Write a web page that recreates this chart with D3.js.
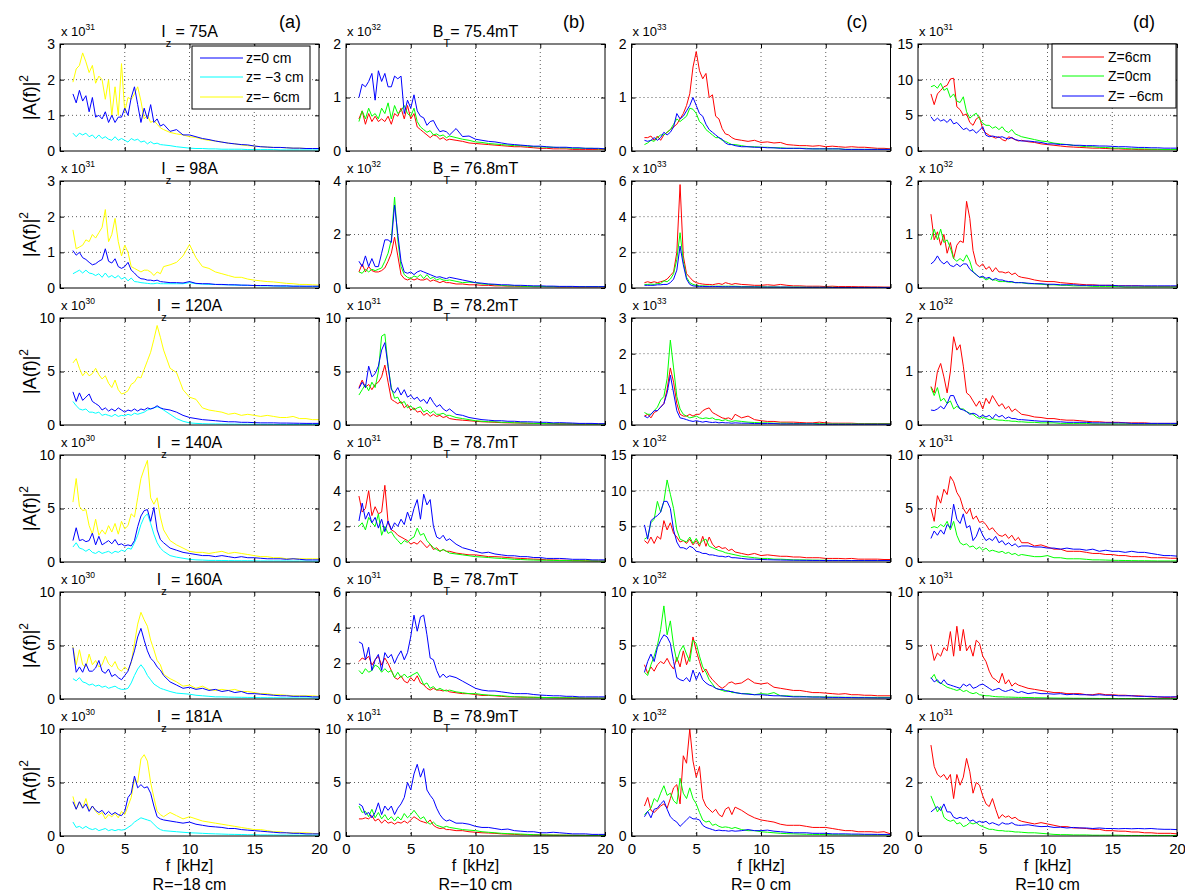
<!DOCTYPE html>
<html><head><meta charset="utf-8">
<script src="https://cdn.jsdelivr.net/npm/d3@7"></script>
<style>
body{margin:0;background:#fff}
text{font-family:"Liberation Sans",Arial,Helvetica,sans-serif;fill:#000}
</style>
</head><body>
<svg id="chart" width="1185" height="895"></svg>
<script>
// frequency axis (kHz)
const freq = [1,1.25,1.5,1.75,2,2.25,2.5,2.75,3,3.25,3.5,3.75,4,4.25,4.5,4.75,5,5.25,5.5,5.75,6,6.25,6.5,6.75,7,7.25,7.5,7.75,8,
  8.5,9,9.5,10,10.5,11,11.5,12,12.5,13,13.5,14,14.5,15,15.5,16,16.5,17,17.5,18,18.5,19,19.5,20];

// ---- column (a): R = -18 cm ; z = 0 (blue), -3 (cyan), -6 (yellow)
const a1_blue = [1.6,1.35,1.7,1.4,1.55,1.1,1.5,0.95,1.0,0.9,1.1,0.8,1.0,0.8,0.95,0.95,1.2,1.0,1.5,1.8,1.3,0.8,1.2,0.9,1.3,0.8,0.9,0.7,0.75,
  0.55,0.6,0.45,0.45,0.4,0.35,0.32,0.28,0.25,0.22,0.2,0.18,0.17,0.14,0.12,0.11,0.1,0.1,0.09,0.08,0.08,0.07,0.07,0.07];
const a1_cyan = [0.5,0.4,0.5,0.45,0.5,0.4,0.45,0.35,0.45,0.35,0.4,0.33,0.3,0.4,0.3,0.35,0.3,0.25,0.35,0.3,0.33,0.25,0.28,0.2,0.26,0.2,0.22,0.18,0.17,
  0.15,0.12,0.1,0.08,0.07,0.07,0.06,0.06,0.05,0.05,0.05,0.05,0.04,0.04,0.04,0.04,0.04,0.03,0.03,0.03,0.03,0.03,0.03,0.03];
const a1_yellow = [1.93,2.3,2.4,2.75,2.5,2.2,2.4,1.9,2.1,2.0,1.45,2.0,1.0,1.8,1.0,2.45,1.1,1.5,1.45,1.6,1.8,1.4,0.9,1.0,0.8,0.85,0.75,0.65,0.6,
  0.52,0.48,0.45,0.4,0.38,0.33,0.3,0.28,0.25,0.22,0.2,0.17,0.15,0.14,0.12,0.11,0.1,0.1,0.09,0.08,0.08,0.07,0.07,0.07];

const a2_blue = [1.05,0.92,1.0,0.85,0.8,0.72,0.65,0.68,0.75,0.8,1.1,0.75,0.7,0.82,0.6,0.55,0.6,0.72,0.5,0.42,0.32,0.26,0.25,0.22,0.22,0.2,0.22,0.18,0.17,
  0.15,0.15,0.14,0.18,0.13,0.12,0.12,0.1,0.1,0.09,0.09,0.08,0.08,0.07,0.07,0.07,0.06,0.06,0.06,0.05,0.05,0.05,0.05,0.05];
const a2_cyan = [0.4,0.45,0.5,0.42,0.5,0.42,0.4,0.35,0.4,0.3,0.42,0.3,0.35,0.28,0.35,0.25,0.3,0.2,0.28,0.18,0.17,0.15,0.14,0.13,0.12,0.12,0.14,0.12,0.12,
  0.12,0.12,0.12,0.15,0.12,0.11,0.1,0.1,0.09,0.09,0.08,0.08,0.07,0.07,0.06,0.06,0.06,0.05,0.05,0.05,0.05,0.04,0.04,0.04];
const a2_yellow = [1.63,1.1,1.15,1.2,1.35,1.3,1.5,1.4,1.55,1.7,2.2,1.3,1.5,1.95,1.3,0.9,1.2,1.0,0.6,0.55,0.5,0.45,0.5,0.5,0.45,0.35,0.45,0.4,0.6,
  0.65,0.72,0.9,1.22,0.85,0.6,0.55,0.45,0.4,0.35,0.3,0.3,0.25,0.22,0.2,0.18,0.17,0.15,0.13,0.12,0.1,0.1,0.09,0.08];

const a3_blue = [3.1,2.2,3.0,2.3,2.6,2.9,2.2,2.0,1.8,1.4,1.6,1.3,1.5,1.3,1.6,1.4,1.2,1.4,1.3,1.5,1.3,1.5,1.4,1.6,1.5,1.6,1.8,1.6,1.5,
  1.4,1.2,0.9,0.7,0.6,0.5,0.45,0.4,0.35,0.3,0.3,0.25,0.25,0.22,0.2,0.2,0.2,0.18,0.18,0.17,0.16,0.15,0.15,0.15];
const a3_cyan = [2.2,1.8,1.5,1.4,1.5,1.2,1.2,1.1,1.2,0.9,1.0,0.9,0.8,1.0,0.8,0.9,0.85,1.0,0.9,1.1,1.0,1.1,1.2,1.4,1.5,1.6,1.7,1.6,1.4,
  1.0,0.6,0.35,0.2,0.15,0.12,0.1,0.1,0.09,0.08,0.08,0.07,0.07,0.06,0.06,0.06,0.05,0.05,0.05,0.05,0.05,0.05,0.05,0.05];
const a3_yellow = [5.8,6.2,5.3,4.6,5.0,4.6,4.8,5.3,4.7,4.3,4.6,3.9,3.5,4.2,3.3,2.9,3.0,3.2,3.8,4.0,4.5,4.4,5.2,6.0,6.8,8.0,9.3,8.2,7.0,
  5.3,4.9,3.3,2.6,2.4,1.6,1.4,1.3,1.2,1.0,1.1,0.9,1.0,0.9,0.8,0.9,0.8,0.7,0.7,0.8,0.6,0.6,0.5,0.5];

const a4_blue = [2.0,3.2,2.0,2.1,1.9,2.0,2.7,1.6,2.4,1.6,1.8,2.0,1.7,2.1,1.6,1.7,1.5,1.6,1.5,2.0,3.3,4.3,4.8,4.9,3.8,5.1,3.0,2.1,1.8,
  1.3,1.1,0.9,0.8,0.7,0.6,0.6,0.5,0.6,0.5,0.4,0.5,0.4,0.4,0.35,0.3,0.3,0.3,0.25,0.3,0.25,0.2,0.2,0.2];
const a4_cyan = [1.4,1.8,1.3,1.2,1.0,1.2,0.9,0.8,1.0,0.8,0.9,1.0,0.8,1.0,0.9,1.1,1.0,1.3,1.2,1.8,2.5,3.5,4.2,4.5,3.6,2.6,1.8,1.3,1.0,
  0.6,0.45,0.35,0.25,0.2,0.18,0.15,0.15,0.14,0.13,0.12,0.12,0.12,0.11,0.1,0.1,0.1,0.1,0.1,0.09,0.09,0.09,0.08,0.08];
const a4_yellow = [5.6,7.8,5.2,4.8,4.9,3.4,2.6,4.0,2.5,3.0,2.6,3.4,2.8,3.6,2.6,3.8,3.1,3.4,4.5,4.2,6.0,7.8,8.7,9.5,6.0,5.4,6.0,4.2,3.0,
  2.0,1.6,1.3,1.0,0.9,0.9,0.8,0.9,1.0,0.8,0.9,0.8,0.7,0.6,0.5,0.5,0.4,0.4,0.3,0.3,0.3,0.3,0.3,0.3];

const a5_blue = [4.8,2.5,3.0,2.5,3.3,2.6,2.6,2.9,3.6,2.6,2.4,2.8,2.1,2.3,2.0,1.8,2.2,2.6,3.5,4.5,5.8,6.6,5.5,4.5,3.8,3.5,3.0,2.7,2.2,
  1.6,1.3,1.0,1.1,0.9,1.0,0.8,0.9,0.7,0.8,0.6,0.7,0.5,0.5,0.45,0.4,0.35,0.3,0.3,0.25,0.25,0.25,0.2,0.2];
const a5_cyan = [1.9,1.7,2.0,1.6,1.5,1.3,1.4,1.2,1.3,1.1,1.2,1.0,1.1,1.2,1.0,0.9,0.9,1.0,1.5,2.2,2.8,3.2,2.8,2.2,1.8,1.4,1.2,1.0,0.9,
  0.7,0.55,0.5,0.45,0.35,0.3,0.25,0.2,0.2,0.18,0.17,0.16,0.15,0.14,0.13,0.12,0.12,0.11,0.1,0.1,0.1,0.1,0.1,0.1];
const a5_yellow = [4.9,3.2,4.6,3.2,3.0,4.2,3.2,3.6,3.0,3.2,4.0,3.3,3.0,3.5,2.8,2.6,3.0,2.7,3.4,5.2,7.0,8.1,7.4,6.8,5.5,4.6,3.6,3.2,2.3,
  1.9,1.6,1.2,1.3,1.0,1.2,0.9,0.8,0.9,0.8,0.9,0.7,0.7,0.6,0.5,0.5,0.4,0.4,0.35,0.3,0.3,0.3,0.3,0.25];

const a6_blue = [3.2,2.5,3.2,2.6,3.0,2.3,2.8,2.4,2.2,2.4,2.0,2.3,2.0,2.2,2.0,1.9,2.3,3.6,4.0,5.6,4.5,4.8,4.5,4.6,4.0,2.8,1.8,1.6,1.5,
  1.4,1.3,1.2,1.3,1.1,1.0,0.9,0.85,0.8,0.7,0.7,0.6,0.55,0.5,0.45,0.4,0.35,0.3,0.3,0.25,0.25,0.2,0.2,0.2];
const a6_cyan = [1.3,0.8,0.9,0.7,0.9,0.7,0.6,0.7,0.5,0.6,0.7,0.5,0.6,0.5,0.6,0.55,0.6,0.8,1.0,1.3,1.5,1.7,1.6,1.5,1.4,1.1,0.8,0.6,0.5,
  0.45,0.4,0.35,0.3,0.28,0.25,0.22,0.2,0.18,0.16,0.15,0.14,0.12,0.12,0.1,0.1,0.1,0.09,0.09,0.08,0.08,0.08,0.08,0.08];
const a6_yellow = [3.7,2.5,3.2,2.6,3.5,2.4,2.8,2.3,2.0,2.2,1.6,2.0,1.8,2.1,1.7,2.3,2.0,2.8,3.6,5.3,5.0,7.2,7.6,7.0,5.0,3.6,2.3,2.0,1.8,
  2.2,1.9,1.6,1.8,1.6,1.4,1.3,1.2,1.1,1.0,0.9,0.8,0.7,0.6,0.6,0.5,0.4,0.4,0.3,0.3,0.3,0.3,0.25,0.2];

// ---- column (b): R = -10 cm ; Z = 6 (red), 0 (green), -6 (blue)
const b1_red = [0.6,0.75,0.5,0.7,0.55,0.65,0.55,0.6,0.55,0.65,0.5,0.7,0.65,0.8,0.6,0.85,0.6,0.7,0.45,0.4,0.35,0.3,0.25,0.3,0.28,0.22,0.25,0.2,0.22,
  0.2,0.18,0.15,0.14,0.13,0.12,0.11,0.1,0.09,0.08,0.08,0.07,0.06,0.05,0.05,0.04,0.04,0.04,0.03,0.03,0.03,0.03,0.03,0.03];
const b1_green = [0.55,0.75,0.6,0.8,0.65,0.7,0.6,0.8,0.7,0.9,0.6,0.85,0.7,0.75,0.85,0.7,0.65,0.8,0.55,0.45,0.4,0.35,0.38,0.3,0.32,0.28,0.3,0.25,0.28,
  0.25,0.22,0.2,0.17,0.16,0.14,0.13,0.12,0.11,0.1,0.1,0.09,0.08,0.08,0.07,0.07,0.06,0.06,0.05,0.05,0.05,0.05,0.04,0.04];
const b1_blue = [1.0,1.25,1.2,1.3,1.45,0.95,1.5,1.3,1.45,1.2,1.2,1.4,1.35,1.4,0.7,0.95,0.8,1.05,0.75,0.65,0.62,0.48,0.55,0.57,0.45,0.36,0.38,0.36,0.3,
  0.42,0.27,0.28,0.22,0.2,0.18,0.17,0.15,0.13,0.12,0.11,0.1,0.09,0.09,0.08,0.07,0.07,0.07,0.06,0.06,0.05,0.05,0.05,0.04];

const b2_red = [0.6,0.9,0.6,0.8,0.65,0.6,0.6,0.65,0.75,1.0,1.3,1.9,1.2,0.5,0.35,0.3,0.35,0.3,0.35,0.3,0.3,0.35,0.25,0.3,0.25,0.2,0.25,0.2,0.2,
  0.15,0.15,0.12,0.12,0.1,0.1,0.08,0.08,0.07,0.07,0.06,0.06,0.05,0.05,0.05,0.05,0.04,0.04,0.04,0.04,0.04,0.04,0.04,0.04];
const b2_green = [0.6,0.55,0.7,0.6,0.7,0.65,0.7,0.75,1.0,1.3,1.8,3.4,1.8,0.8,0.5,0.4,0.35,0.45,0.4,0.5,0.35,0.5,0.35,0.4,0.3,0.35,0.3,0.28,0.3,
  0.25,0.2,0.22,0.2,0.15,0.14,0.12,0.1,0.08,0.08,0.07,0.06,0.06,0.06,0.05,0.05,0.05,0.05,0.05,0.05,0.05,0.05,0.05,0.05];
const b2_blue = [1.0,0.8,1.2,0.8,1.1,0.8,0.8,1.3,1.8,1.8,1.7,3.1,2.0,1.0,0.6,0.55,0.6,0.5,0.6,0.65,0.6,0.55,0.5,0.45,0.4,0.42,0.38,0.35,0.4,
  0.35,0.3,0.25,0.2,0.18,0.15,0.14,0.12,0.12,0.1,0.1,0.09,0.08,0.08,0.07,0.07,0.06,0.06,0.06,0.05,0.05,0.05,0.05,0.05];

const b3_red = [3.5,4.2,3.5,3.8,3.3,3.8,4.0,4.5,5.6,4.0,2.4,2.2,2.0,2.2,1.6,1.9,1.4,1.6,1.2,1.3,0.9,1.1,0.8,1.0,0.8,0.9,0.7,0.8,0.6,
  0.5,0.45,0.4,0.35,0.3,0.28,0.25,0.22,0.2,0.2,0.18,0.16,0.15,0.15,0.14,0.13,0.12,0.12,0.11,0.1,0.1,0.1,0.1,0.1];
const b3_green = [2.8,3.3,3.8,3.2,4.0,3.5,5.0,8.3,8.5,5.5,3.5,2.5,2.6,2.0,2.2,1.6,1.8,1.4,1.6,1.7,1.2,1.4,1.1,1.3,1.0,1.0,1.1,0.9,0.9,
  0.7,0.6,0.5,0.4,0.35,0.3,0.3,0.25,0.25,0.2,0.2,0.18,0.15,0.15,0.12,0.12,0.1,0.1,0.1,0.09,0.09,0.08,0.08,0.08];
const b3_blue = [3.4,4.0,3.5,5.5,4.5,4.8,5.5,7.0,7.7,5.5,3.3,3.0,3.5,2.8,3.3,2.6,2.8,2.4,2.6,2.2,2.4,2.0,2.6,2.1,1.7,1.9,1.5,1.3,1.5,
  1.0,0.9,0.7,0.6,0.5,0.45,0.4,0.4,0.35,0.35,0.3,0.3,0.28,0.25,0.25,0.2,0.22,0.2,0.18,0.15,0.15,0.15,0.12,0.12];

const b4_red = [3.7,2.8,3.0,4.0,2.6,3.1,2.7,2.8,4.3,2.2,1.8,1.7,1.5,1.4,1.3,1.2,1.0,1.1,1.0,1.2,1.0,0.8,1.0,0.7,0.8,0.6,0.7,0.6,0.6,
  0.5,0.45,0.4,0.4,0.35,0.3,0.3,0.28,0.25,0.22,0.2,0.18,0.16,0.15,0.12,0.12,0.1,0.1,0.08,0.08,0.07,0.06,0.06,0.05];
const b4_green = [2.0,2.2,1.8,2.5,2.2,2.0,2.7,1.5,2.0,1.6,1.7,1.4,1.2,1.0,1.2,1.1,1.3,1.4,1.9,1.5,1.6,1.2,1.0,0.8,0.7,0.6,0.7,0.6,0.5,
  0.45,0.4,0.35,0.3,0.28,0.25,0.22,0.2,0.18,0.15,0.14,0.12,0.11,0.1,0.1,0.09,0.08,0.08,0.07,0.07,0.06,0.06,0.05,0.05];
const b4_blue = [2.3,3.3,2.4,2.8,2.2,2.5,1.9,2.4,1.7,2.3,1.8,2.2,2.0,2.4,2.1,2.8,2.3,3.0,3.5,2.4,3.8,3.2,3.5,2.0,1.4,1.3,1.5,1.2,1.3,
  1.0,0.8,0.7,0.6,0.5,0.55,0.45,0.4,0.35,0.35,0.3,0.3,0.25,0.25,0.2,0.2,0.2,0.18,0.15,0.15,0.15,0.12,0.12,0.12];

const b5_red = [2.1,2.3,2.2,2.4,1.9,2.2,2.4,1.9,2.3,2.0,1.6,1.2,1.1,1.3,1.0,0.9,1.2,1.0,1.3,0.9,0.8,0.6,0.5,0.6,0.5,0.5,0.45,0.5,0.4,
  0.35,0.3,0.3,0.25,0.2,0.2,0.18,0.15,0.12,0.12,0.1,0.1,0.09,0.08,0.08,0.07,0.07,0.06,0.06,0.06,0.05,0.05,0.05,0.05];
const b5_green = [1.6,1.4,1.7,1.5,1.6,1.9,1.8,1.5,1.7,1.5,1.6,1.2,1.5,1.2,1.4,1.2,1.3,1.4,1.5,1.2,0.8,0.9,0.6,0.7,0.5,0.6,0.5,0.45,0.5,
  0.4,0.35,0.3,0.3,0.25,0.22,0.2,0.18,0.15,0.12,0.12,0.1,0.1,0.09,0.08,0.08,0.07,0.07,0.06,0.06,0.05,0.05,0.05,0.05];
const b5_blue = [3.2,3.1,2.2,2.9,1.6,2.2,2.5,1.6,2.6,2.3,2.5,2.0,2.4,2.7,2.2,2.6,3.5,4.7,3.8,4.6,4.7,3.6,2.3,2.2,1.6,1.2,1.4,1.2,1.3,
  1.2,1.0,0.8,0.6,0.5,0.45,0.45,0.4,0.35,0.3,0.3,0.3,0.25,0.22,0.2,0.18,0.18,0.15,0.15,0.12,0.12,0.12,0.12,0.12];

const b6_red = [1.6,1.6,1.7,1.6,1.9,1.4,1.6,1.2,1.5,1.2,1.3,1.1,1.3,1.2,1.4,1.2,1.5,1.8,1.6,1.4,1.3,1.2,1.5,1.0,0.8,0.7,0.75,0.6,0.6,
  0.5,0.5,0.4,0.35,0.3,0.28,0.25,0.2,0.18,0.15,0.12,0.12,0.1,0.1,0.09,0.08,0.08,0.07,0.07,0.06,0.06,0.05,0.05,0.05];
const b6_green = [2.8,2.2,2.3,1.8,2.5,1.7,2.2,1.6,2.0,1.5,1.8,1.4,1.8,1.5,2.1,1.7,2.0,2.4,2.0,1.6,1.8,1.3,1.1,1.3,1.0,0.9,0.8,0.9,0.8,
  0.7,0.6,0.55,0.5,0.4,0.35,0.3,0.25,0.22,0.2,0.18,0.15,0.12,0.1,0.1,0.09,0.08,0.08,0.07,0.07,0.06,0.06,0.06,0.06];
const b6_blue = [3.0,2.8,2.0,2.2,1.7,2.2,3.1,2.0,2.8,2.4,2.8,2.0,2.6,3.0,3.6,5.0,4.3,5.8,6.7,5.5,6.3,4.3,3.8,3.4,2.6,2.0,1.6,1.4,1.5,
  1.2,1.2,1.1,0.9,0.8,0.8,0.7,0.6,0.65,0.5,0.45,0.4,0.4,0.3,0.3,0.35,0.3,0.25,0.2,0.2,0.2,0.15,0.15,0.15];

// ---- column (c): R = 0 cm
const c1_red = [0.25,0.25,0.28,0.2,0.28,0.2,0.3,0.35,0.4,0.45,0.5,0.6,0.7,0.85,1.07,1.57,1.86,1.5,1.35,1.45,1.0,1.05,0.65,0.6,0.42,0.32,0.3,0.25,0.22,
  0.2,0.18,0.2,0.16,0.17,0.15,0.16,0.12,0.11,0.1,0.1,0.09,0.1,0.08,0.09,0.08,0.07,0.08,0.07,0.07,0.06,0.05,0.05,0.04];
const c1_green = [0.12,0.15,0.2,0.18,0.25,0.3,0.3,0.35,0.4,0.5,0.6,0.55,0.6,0.65,0.8,0.78,0.7,0.55,0.5,0.4,0.35,0.3,0.25,0.25,0.2,0.18,0.15,0.12,0.12,
  0.1,0.08,0.08,0.07,0.07,0.06,0.06,0.05,0.05,0.05,0.05,0.04,0.04,0.04,0.04,0.04,0.03,0.03,0.03,0.03,0.03,0.03,0.03,0.03];
const c1_blue = [0.2,0.18,0.2,0.25,0.2,0.25,0.35,0.3,0.35,0.45,0.7,0.6,0.65,0.75,0.85,1.0,0.85,0.7,0.65,0.5,0.4,0.35,0.3,0.25,0.22,0.15,0.12,0.12,0.1,
  0.08,0.08,0.07,0.07,0.06,0.06,0.05,0.05,0.05,0.05,0.04,0.04,0.04,0.04,0.04,0.04,0.03,0.03,0.03,0.03,0.03,0.03,0.03,0.03];

const c2_red = [0.3,0.35,0.3,0.35,0.3,0.35,0.4,0.5,0.7,0.9,2.0,5.8,1.8,0.8,0.6,0.4,0.3,0.25,0.22,0.2,0.2,0.18,0.22,0.25,0.2,0.3,0.25,0.2,0.25,
  0.2,0.18,0.15,0.15,0.18,0.15,0.2,0.15,0.12,0.12,0.1,0.1,0.1,0.08,0.1,0.08,0.08,0.08,0.07,0.07,0.06,0.06,0.05,0.05];
const c2_green = [0.2,0.2,0.22,0.2,0.25,0.25,0.4,0.35,0.5,0.8,1.6,3.1,1.5,0.6,0.3,0.2,0.15,0.12,0.12,0.11,0.1,0.1,0.1,0.1,0.1,0.1,0.1,0.1,0.1,
  0.08,0.08,0.07,0.07,0.06,0.06,0.05,0.05,0.05,0.05,0.04,0.04,0.04,0.04,0.04,0.03,0.03,0.03,0.03,0.03,0.03,0.03,0.03,0.03];
const c2_blue = [0.15,0.15,0.15,0.15,0.18,0.18,0.2,0.2,0.3,0.5,1.0,2.35,1.3,0.5,0.2,0.12,0.1,0.09,0.09,0.08,0.08,0.08,0.08,0.08,0.07,0.07,0.07,0.07,0.07,
  0.06,0.06,0.06,0.05,0.05,0.05,0.05,0.05,0.04,0.04,0.04,0.04,0.04,0.04,0.03,0.03,0.03,0.03,0.03,0.03,0.03,0.03,0.03,0.03];

const c3_red = [0.25,0.3,0.2,0.35,0.4,0.5,0.6,1.0,1.6,1.2,0.6,0.3,0.25,0.25,0.3,0.25,0.3,0.3,0.4,0.45,0.48,0.35,0.3,0.25,0.2,0.18,0.2,0.15,0.3,
  0.2,0.25,0.15,0.12,0.1,0.1,0.08,0.08,0.08,0.07,0.06,0.06,0.08,0.06,0.05,0.05,0.05,0.05,0.04,0.04,0.04,0.04,0.04,0.04];
const c3_green = [0.35,0.3,0.3,0.4,0.5,0.7,0.8,1.3,2.38,1.6,0.8,0.45,0.3,0.25,0.2,0.22,0.25,0.2,0.18,0.2,0.18,0.2,0.15,0.15,0.12,0.15,0.12,0.1,0.12,
  0.1,0.08,0.07,0.06,0.06,0.05,0.05,0.05,0.04,0.04,0.04,0.04,0.04,0.03,0.03,0.03,0.03,0.03,0.03,0.03,0.03,0.03,0.03,0.03];
const c3_blue = [0.25,0.2,0.3,0.4,0.4,0.5,0.6,0.9,1.4,0.9,0.4,0.2,0.18,0.15,0.12,0.1,0.12,0.1,0.08,0.1,0.08,0.07,0.08,0.06,0.07,0.06,0.06,0.05,0.06,
  0.05,0.05,0.04,0.04,0.04,0.04,0.03,0.03,0.03,0.03,0.03,0.03,0.02,0.02,0.02,0.02,0.02,0.02,0.02,0.02,0.02,0.02,0.02,0.02];

const c4_red = [3.0,2.6,3.5,2.6,3.6,3.2,5.8,4.5,5.5,4.0,3.5,2.8,3.0,2.6,3.2,2.4,3.0,2.2,3.6,2.2,3.5,2.5,2.0,2.2,1.9,2.0,1.6,1.8,1.4,
  1.2,1.0,1.2,0.9,1.0,0.9,0.8,0.8,0.7,0.7,0.6,0.6,0.6,0.5,0.5,0.5,0.45,0.5,0.4,0.4,0.4,0.4,0.35,0.35];
const c4_green = [3.2,3.5,5.5,6.0,8.5,7.0,8.5,11.5,9.5,7.5,4.5,3.2,3.0,2.8,3.5,2.6,3.3,2.5,3.0,3.2,2.2,2.0,1.8,1.6,1.5,1.3,1.2,1.1,1.0,
  0.8,0.7,0.6,0.5,0.5,0.4,0.4,0.35,0.3,0.3,0.28,0.26,0.25,0.24,0.22,0.22,0.2,0.2,0.2,0.2,0.2,0.2,0.2,0.2];
const c4_blue = [5.2,3.2,5.8,6.2,6.5,7.0,8.5,8.5,7.5,4.5,2.8,2.0,2.0,1.8,2.2,2.0,1.5,1.4,1.2,1.2,1.0,1.0,0.9,0.8,0.8,0.7,0.8,0.6,0.6,
  0.5,0.4,0.4,0.35,0.32,0.3,0.28,0.26,0.25,0.24,0.23,0.22,0.22,0.2,0.2,0.2,0.2,0.2,0.2,0.2,0.2,0.2,0.2,0.2];

const c5_red = [3.2,2.4,3.0,2.6,3.2,3.5,3.3,3.8,3.2,2.8,3.9,3.0,4.5,3.2,4.0,5.8,4.5,3.5,2.5,2.8,2.2,1.8,1.5,1.2,1.0,1.2,1.5,1.6,1.4,
  1.5,1.9,1.5,1.4,1.5,1.1,1.0,0.9,0.8,0.8,0.7,0.6,0.6,0.55,0.5,0.45,0.5,0.4,0.4,0.35,0.35,0.3,0.3,0.3];
const c5_green = [2.5,2.2,3.2,4.0,5.0,6.5,8.7,6.0,7.3,5.0,3.5,4.5,5.0,4.2,3.5,5.5,5.2,4.0,3.0,2.5,1.8,1.4,1.0,0.9,0.8,0.7,0.8,0.6,0.6,
  0.5,0.5,0.4,0.5,0.45,0.6,0.3,0.3,0.25,0.25,0.22,0.2,0.2,0.18,0.18,0.17,0.16,0.16,0.15,0.15,0.15,0.15,0.15,0.15];
const c5_blue = [2.5,3.5,4.2,3.5,4.8,5.5,6.0,5.8,5.2,3.5,2.0,1.8,1.7,2.0,1.6,2.7,1.8,2.5,1.8,1.5,1.3,1.2,1.0,0.9,0.9,0.8,0.7,0.7,0.6,
  0.5,0.45,0.4,0.4,0.35,0.3,0.3,0.25,0.2,0.2,0.2,0.18,0.18,0.16,0.15,0.15,0.14,0.13,0.12,0.12,0.11,0.1,0.1,0.1];

const c6_red = [2.8,3.6,2.4,2.2,2.5,2.8,3.0,2.6,3.5,4.5,4.8,3.0,7.5,6.8,10.0,7.0,5.5,6.5,3.5,2.8,2.5,2.2,2.5,2.0,1.8,2.5,2.7,2.0,2.7,
  2.4,2.0,1.7,1.5,1.4,1.3,1.1,1.0,1.0,1.0,0.9,0.8,0.8,0.8,0.7,0.6,0.5,0.5,0.4,0.4,0.4,0.35,0.4,0.2];
const c6_green = [2.0,2.3,2.6,3.5,3.2,4.0,4.7,3.8,4.0,3.3,3.0,5.4,4.0,3.5,4.5,3.5,3.0,2.2,1.5,1.3,1.4,1.0,1.1,0.9,0.8,0.85,0.8,0.7,0.8,
  0.6,0.5,0.5,0.4,0.35,0.3,0.25,0.22,0.2,0.18,0.16,0.15,0.14,0.13,0.12,0.12,0.11,0.1,0.1,0.1,0.1,0.1,0.1,0.1];
const c6_blue = [1.8,2.3,1.7,2.5,2.6,3.0,3.3,2.5,1.8,1.5,1.3,0.9,1.2,1.5,1.8,1.6,1.6,1.5,1.0,0.8,0.7,0.6,0.5,0.55,0.5,0.5,0.45,0.5,0.45,
  0.5,0.6,0.5,0.5,0.55,0.45,0.4,0.35,0.3,0.3,0.3,0.25,0.25,0.25,0.2,0.2,0.2,0.18,0.18,0.16,0.16,0.15,0.15,0.15];

// ---- column (d): R = 10 cm
const d1_red = [8.0,6.5,8.0,8.5,9.0,9.2,10.1,10.2,6.2,5.8,5.0,5.2,4.0,3.6,4.5,4.8,3.0,2.5,2.2,2.0,1.8,2.0,1.6,1.4,2.0,1.8,1.6,1.4,1.5,
  1.3,1.2,1.0,0.9,0.8,0.7,0.6,0.55,0.5,0.45,0.4,0.4,0.35,0.3,0.3,0.25,0.25,0.2,0.2,0.2,0.2,0.2,0.2,0.2];
const d1_green = [9.0,9.2,8.8,9.5,8.5,8.8,7.5,8.0,7.0,6.8,7.6,5.5,4.6,5.0,5.3,4.5,3.9,3.6,3.6,3.2,3.4,3.0,3.4,2.8,2.6,3.0,2.4,2.2,2.0,
  1.8,1.6,1.4,1.3,1.1,1.0,0.9,0.8,0.7,0.6,0.6,0.5,0.5,0.4,0.4,0.35,0.3,0.3,0.3,0.25,0.25,0.2,0.2,0.2];
const d1_blue = [4.8,4.2,4.6,4.2,4.4,4.0,4.5,3.8,4.0,3.5,3.0,3.2,2.8,3.0,2.5,2.9,3.4,2.2,2.0,2.1,2.0,1.9,2.0,1.8,1.7,1.9,1.6,1.5,1.4,
  1.4,1.3,1.2,1.0,1.0,0.9,0.9,0.8,0.8,0.75,0.75,0.7,0.7,0.65,0.6,0.6,0.55,0.5,0.5,0.45,0.45,0.4,0.4,0.4];

const d2_red = [1.38,0.9,1.05,0.8,1.0,0.65,0.85,0.55,0.8,0.88,0.85,1.62,1.3,0.7,0.45,0.4,0.45,0.35,0.4,0.3,0.38,0.3,0.3,0.28,0.3,0.25,0.28,0.22,0.2,
  0.18,0.15,0.13,0.12,0.12,0.1,0.09,0.08,0.07,0.06,0.06,0.05,0.05,0.05,0.04,0.04,0.04,0.04,0.03,0.03,0.03,0.03,0.03,0.03];
const d2_green = [0.9,1.1,0.9,1.1,0.85,0.9,0.75,0.55,0.5,0.55,0.5,0.62,0.5,0.3,0.25,0.2,0.2,0.15,0.18,0.15,0.15,0.12,0.12,0.12,0.11,0.11,0.1,0.1,0.1,
  0.08,0.08,0.07,0.06,0.06,0.05,0.05,0.04,0.04,0.04,0.03,0.03,0.03,0.03,0.03,0.02,0.02,0.02,0.02,0.02,0.02,0.02,0.02,0.02];
const d2_blue = [0.45,0.5,0.6,0.5,0.45,0.5,0.42,0.4,0.45,0.4,0.45,0.45,0.35,0.3,0.25,0.2,0.22,0.18,0.2,0.15,0.18,0.15,0.15,0.13,0.12,0.12,0.1,0.1,0.1,
  0.09,0.08,0.08,0.07,0.07,0.06,0.06,0.06,0.05,0.05,0.05,0.05,0.05,0.05,0.04,0.04,0.04,0.04,0.04,0.04,0.04,0.04,0.04,0.04];

const d3_red = [0.72,0.6,1.0,1.15,0.9,0.6,1.0,1.65,1.4,1.5,1.1,0.6,0.55,0.45,0.35,0.45,0.3,0.5,0.4,0.55,0.45,0.35,0.4,0.3,0.35,0.25,0.3,0.25,0.2,
  0.18,0.15,0.14,0.12,0.12,0.1,0.09,0.09,0.08,0.07,0.06,0.06,0.05,0.05,0.05,0.04,0.04,0.04,0.04,0.03,0.03,0.03,0.03,0.03];
const d3_green = [0.7,0.55,0.7,0.45,0.5,0.4,0.45,0.3,0.35,0.3,0.3,0.25,0.22,0.2,0.15,0.12,0.15,0.12,0.1,0.12,0.1,0.09,0.09,0.08,0.08,0.07,0.07,0.06,0.06,
  0.05,0.05,0.04,0.04,0.04,0.03,0.03,0.03,0.03,0.03,0.02,0.02,0.02,0.02,0.02,0.02,0.02,0.02,0.02,0.02,0.02,0.02,0.02,0.02];
const d3_blue = [0.28,0.27,0.3,0.35,0.3,0.4,0.55,0.55,0.4,0.3,0.28,0.25,0.2,0.22,0.2,0.15,0.18,0.15,0.18,0.12,0.2,0.15,0.18,0.12,0.15,0.12,0.12,0.1,0.1,
  0.09,0.08,0.07,0.07,0.06,0.06,0.05,0.05,0.05,0.05,0.04,0.04,0.04,0.04,0.04,0.04,0.03,0.03,0.03,0.03,0.03,0.03,0.03,0.03];

const d4_red = [5.0,3.8,6.2,5.5,6.8,6.3,8.0,7.5,6.5,6.0,5.0,4.5,5.0,4.0,4.3,3.7,3.8,3.5,3.0,3.2,2.8,2.5,2.4,2.6,2.2,2.5,2.0,2.3,1.8,
  1.8,1.5,1.6,1.4,1.2,1.2,1.0,1.0,1.0,0.9,0.8,0.8,0.7,0.7,0.6,0.6,0.5,0.5,0.5,0.4,0.4,0.4,0.35,0.35];
const d4_green = [3.2,3.3,3.2,3.5,3.3,3.8,3.0,3.8,2.5,1.8,1.6,1.7,1.4,1.5,1.2,1.4,1.1,1.3,1.0,1.1,1.0,0.9,1.0,0.8,0.9,0.7,0.8,0.6,0.7,
  0.6,0.5,0.5,0.6,0.4,0.4,0.3,0.3,0.3,0.25,0.2,0.2,0.18,0.16,0.15,0.14,0.13,0.12,0.12,0.11,0.1,0.1,0.1,0.1];
const d4_blue = [2.2,2.9,2.5,3.0,2.6,3.5,3.2,5.4,4.0,3.6,4.5,3.2,3.4,2.0,2.4,3.2,2.5,2.0,2.2,2.0,2.4,1.8,2.0,1.6,1.8,1.5,1.7,1.4,1.5,
  1.5,1.4,1.4,1.3,1.3,1.2,1.3,1.2,1.2,1.1,1.2,1.0,1.1,1.0,1.0,0.9,1.0,0.9,0.9,0.8,0.7,0.6,0.6,0.55];

const d5_red = [5.1,3.6,4.3,4.0,4.8,4.5,6.3,4.0,6.8,4.5,6.5,4.5,5.0,4.0,5.5,5.2,4.0,3.5,2.6,2.0,1.8,1.5,2.4,1.4,1.8,1.2,1.5,1.3,1.2,
  1.0,0.9,0.8,0.7,0.6,0.6,0.5,0.5,0.5,0.4,0.4,0.5,0.4,0.4,0.35,0.35,0.3,0.3,0.25,0.2,0.2,0.15,0.15,0.2];
const d5_green = [1.9,2.3,1.6,1.5,1.3,1.1,1.0,0.9,0.8,0.9,0.7,0.8,0.6,0.5,0.6,0.4,0.35,0.3,0.3,0.25,0.22,0.2,0.2,0.18,0.18,0.17,0.16,0.15,0.15,
  0.14,0.12,0.11,0.1,0.09,0.08,0.08,0.07,0.07,0.06,0.06,0.05,0.05,0.05,0.04,0.04,0.04,0.04,0.03,0.03,0.03,0.03,0.03,0.03];
const d5_blue = [2.0,1.6,1.8,1.4,1.8,1.4,1.3,1.2,1.1,1.0,1.4,1.2,1.4,1.0,1.1,1.3,1.4,1.2,1.0,0.8,0.9,1.0,0.8,0.7,0.8,0.9,0.7,0.6,0.7,
  0.5,0.6,0.5,0.5,0.45,0.5,0.4,0.45,0.4,0.4,0.35,0.4,0.35,0.35,0.3,0.3,0.3,0.25,0.25,0.25,0.2,0.2,0.2,0.2];

const d6_red = [3.4,2.6,2.3,2.2,2.3,2.1,2.3,1.4,2.3,1.9,2.2,2.9,2.4,1.6,2.0,1.9,1.5,1.2,1.1,1.4,1.0,0.65,0.8,0.7,0.75,0.65,0.7,0.6,0.55,
  0.5,0.45,0.5,0.45,0.4,0.35,0.35,0.3,0.3,0.28,0.25,0.25,0.2,0.2,0.18,0.18,0.15,0.15,0.12,0.12,0.1,0.1,0.1,0.08];
const d6_green = [1.5,1.2,0.9,1.1,0.7,0.6,0.55,0.6,0.45,0.5,0.35,0.4,0.5,0.45,0.5,0.4,0.35,0.3,0.25,0.25,0.22,0.2,0.2,0.18,0.18,0.17,0.15,0.15,0.14,
  0.12,0.12,0.1,0.08,0.06,0.05,0.05,0.04,0.04,0.04,0.03,0.03,0.03,0.03,0.03,0.02,0.02,0.02,0.02,0.02,0.02,0.02,0.02,0.02];
const d6_blue = [0.9,1.0,1.1,0.95,1.2,0.9,0.9,0.7,0.65,0.7,0.65,0.7,0.55,0.6,0.5,0.55,0.5,0.55,0.45,0.5,0.45,0.4,0.5,0.45,0.45,0.5,0.42,0.4,0.4,
  0.42,0.38,0.35,0.36,0.32,0.33,0.3,0.32,0.3,0.3,0.28,0.3,0.28,0.28,0.27,0.28,0.27,0.28,0.27,0.28,0.26,0.25,0.25,0.24];

// ---- labels / ticks
const xTicks = [0,5,10,15,20];
const titlesA = ["75A","98A","120A","140A","160A","181A"];
const titlesB = ["75.4mT","76.8mT","78.2mT","78.7mT","78.7mT","78.9mT"];
const panelLetters = ["(a)","(b)","(c)","(d)"];
const rLabels = ["R=\u221218 cm","R=\u221210 cm","R= 0 cm","R=10 cm"];
const legendA = ["z=0 cm","z= \u22123 cm","z=\u2212 6cm"];
const legendD = ["Z=6cm","Z=0cm","Z= \u22126cm"];
const yTicks = [
  [[0,1,2,3],[0,1,2,3],[0,5,10],[0,5,10],[0,5,10],[0,5,10]],
  [[0,1,2],[0,2,4],[0,5,10],[0,2,4,6],[0,2,4,6],[0,5,10]],
  [[0,1,2],[0,2,4,6],[0,1,2,3],[0,5,10,15],[0,5,10],[0,5,10]],
  [[0,5,10,15],[0,1,2],[0,1,2],[0,5,10],[0,5,10],[0,2,4]]
];
const exps = [[31,31,30,30,30,30],[32,32,31,31,31,31],[33,33,33,32,32,32],[31,32,32,31,31,31]];

// series per column/row, in drawing order
const colA = ["#ffff00","#00ffff","#0000ff"]; // yellow, cyan, blue
const colRGB = ["#ff0000","#00ff00","#0000ff"]; // red, green, blue
const seriesData = [
  [[a1_yellow,a1_cyan,a1_blue],[a2_yellow,a2_cyan,a2_blue],[a3_yellow,a3_cyan,a3_blue],[a4_yellow,a4_cyan,a4_blue],[a5_yellow,a5_cyan,a5_blue],[a6_yellow,a6_cyan,a6_blue]],
  [[b1_red,b1_green,b1_blue],[b2_red,b2_green,b2_blue],[b3_red,b3_green,b3_blue],[b4_red,b4_green,b4_blue],[b5_red,b5_green,b5_blue],[b6_red,b6_green,b6_blue]],
  [[c1_red,c1_green,c1_blue],[c2_red,c2_green,c2_blue],[c3_red,c3_green,c3_blue],[c4_red,c4_green,c4_blue],[c5_red,c5_green,c5_blue],[c6_red,c6_green,c6_blue]],
  [[d1_red,d1_green,d1_blue],[d2_red,d2_green,d2_blue],[d3_red,d3_green,d3_blue],[d4_red,d4_green,d4_blue],[d5_red,d5_green,d5_blue],[d6_red,d6_green,d6_blue]]
];

// ---- layout
const colX = [60, 346, 631.5, 918];
const rowY = [44, 181, 318, 455, 592, 729];
const PW = 259, PH = 107;
const FONT = "'Liberation Sans',Arial,sans-serif";

const svg = d3.select("#chart");
const defs = svg.append("defs");

for (let c = 0; c < 4; c++) {
  for (let r = 0; r < 6; r++) {
    const x0 = colX[c], y0 = rowY[r];
    const ticks = yTicks[c][r];
    const x = d3.scaleLinear().domain([0, 20]).range([x0, x0 + PW]);
    const y = d3.scaleLinear().domain([0, ticks[ticks.length - 1]]).range([y0 + PH, y0]);
    const g = svg.append("g");
    const clipId = `clip${c}${r}`;
    defs.append("clipPath").attr("id", clipId).append("rect")
      .attr("x", x0).attr("y", y0).attr("width", PW).attr("height", PH);

    // grid
    const grid = g.append("g").attr("stroke", "#333").attr("stroke-width", 0.8).attr("stroke-dasharray", "1,3");
    [5, 10, 15].forEach(v => grid.append("line").attr("x1", x(v)).attr("x2", x(v)).attr("y1", y0).attr("y2", y0 + PH));
    ticks.slice(1, -1).forEach(v => grid.append("line").attr("x1", x0).attr("x2", x0 + PW).attr("y1", y(v)).attr("y2", y(v)));

    // data lines
    const line = d3.line().x((d, i) => x(freq[i])).y(d => y(d));
    const cols = c === 0 ? colA : colRGB;
    const lg = g.append("g").attr("clip-path", `url(#${clipId})`);
    seriesData[c][r].forEach((arr, k) => {
      lg.append("path").datum(arr).attr("d", line).attr("fill", "none")
        .attr("stroke", cols[k]).attr("stroke-width", 1).attr("stroke-linejoin", "round");
    });

    // axes (ticks inward)
    const fmt = d3.format("d");
    const axL = g.append("g").attr("transform", `translate(${x0},0)`)
      .call(d3.axisLeft(y).tickValues(ticks).tickSize(-4).tickPadding(5).tickFormat(fmt));
    const axR = g.append("g").attr("transform", `translate(${x0 + PW},0)`)
      .call(d3.axisRight(y).tickValues(ticks).tickSize(-4).tickFormat(""));
    const axB = g.append("g").attr("transform", `translate(0,${y0 + PH})`)
      .call(d3.axisBottom(x).tickValues(xTicks).tickSize(-4).tickPadding(7).tickFormat(r === 5 ? fmt : ""));
    const axT = g.append("g").attr("transform", `translate(0,${y0})`)
      .call(d3.axisTop(x).tickValues(xTicks).tickSize(-4).tickFormat(""));
    [axL, axR, axB, axT].forEach(a => {
      a.select(".domain").remove();
      a.selectAll("line").attr("stroke", "#000");
      a.selectAll("text").attr("font-family", FONT).attr("font-size", 14).attr("fill", "#000");
    });
    axB.selectAll("text").attr("font-size", 15);

    // box
    g.append("rect").attr("x", x0).attr("y", y0).attr("width", PW).attr("height", PH)
      .attr("fill", "none").attr("stroke", "#000").attr("stroke-width", 1);

    // exponent label
    const ex = g.append("text").attr("x", x0 + 1).attr("y", y0 - 8).attr("font-size", 13);
    ex.append("tspan").text("x 10");
    ex.append("tspan").attr("dy", -6).attr("font-size", 8.5).text(exps[c][r]);

    // titles
    if (c < 2) {
      const t = g.append("text").attr("x", x0 + PW / 2).attr("y", y0 - 7)
        .attr("text-anchor", "middle").attr("font-size", 16);
      if (c === 0) {
        t.append("tspan").text("I");
        t.append("tspan").attr("dy", 10).attr("font-size", 11).text("z");
        t.append("tspan").attr("dy", -10).text(" = " + titlesA[r]);
      } else {
        t.append("tspan").text("B");
        t.append("tspan").attr("dy", 10).attr("font-size", 11).text("T");
        t.append("tspan").attr("dy", -10).text("= " + titlesB[r]);
      }
    }

    // y label
    if (c === 0) {
      const yl = g.append("text").attr("transform", `translate(36,${y0 + PH / 2}) rotate(-90)`)
        .attr("text-anchor", "middle").attr("font-size", 18);
      yl.append("tspan").text("|A(f)|");
      yl.append("tspan").attr("dy", -8).attr("font-size", 12).text("2");
    }

    // x labels
    if (r === 5) {
      g.append("text").attr("x", x0 + PW / 2).attr("y", 871).attr("text-anchor", "middle")
        .attr("font-size", 16).attr("word-spacing", 2).text("f [kHz]");
      g.append("text").attr("x", x0 + PW / 2).attr("y", 890).attr("text-anchor", "middle")
        .attr("font-size", 16).text(rLabels[c]);
    }
  }
}

// panel letters
const letterX = [290, 574, 857, 1144];
panelLetters.forEach((s, i) => svg.append("text").attr("x", letterX[i]).attr("y", 28)
  .attr("text-anchor", "middle").attr("font-size", 18).text(s));

// legends
function legend(x, y, w, h, labels, colors, lx1, lx2, tx, rowsY) {
  const g = svg.append("g");
  g.append("rect").attr("x", x).attr("y", y).attr("width", w).attr("height", h)
    .attr("fill", "#fff").attr("stroke", "#000").attr("stroke-width", 1);
  labels.forEach((s, i) => {
    g.append("line").attr("x1", lx1).attr("x2", lx2).attr("y1", rowsY[i]).attr("y2", rowsY[i])
      .attr("stroke", colors[i]).attr("stroke-width", 1);
    g.append("text").attr("x", tx).attr("y", rowsY[i] + 5).attr("font-size", 14).text(s);
  });
}
legend(192, 46, 118, 63, legendA, ["#0000ff", "#00ffff", "#ffff00"], 200, 243, 246, [58, 77, 97]);
legend(1052, 44, 124, 64, legendD, ["#ff0000", "#00ff00", "#0000ff"], 1062, 1104, 1108, [57, 76, 96]);
</script>
</body></html>
